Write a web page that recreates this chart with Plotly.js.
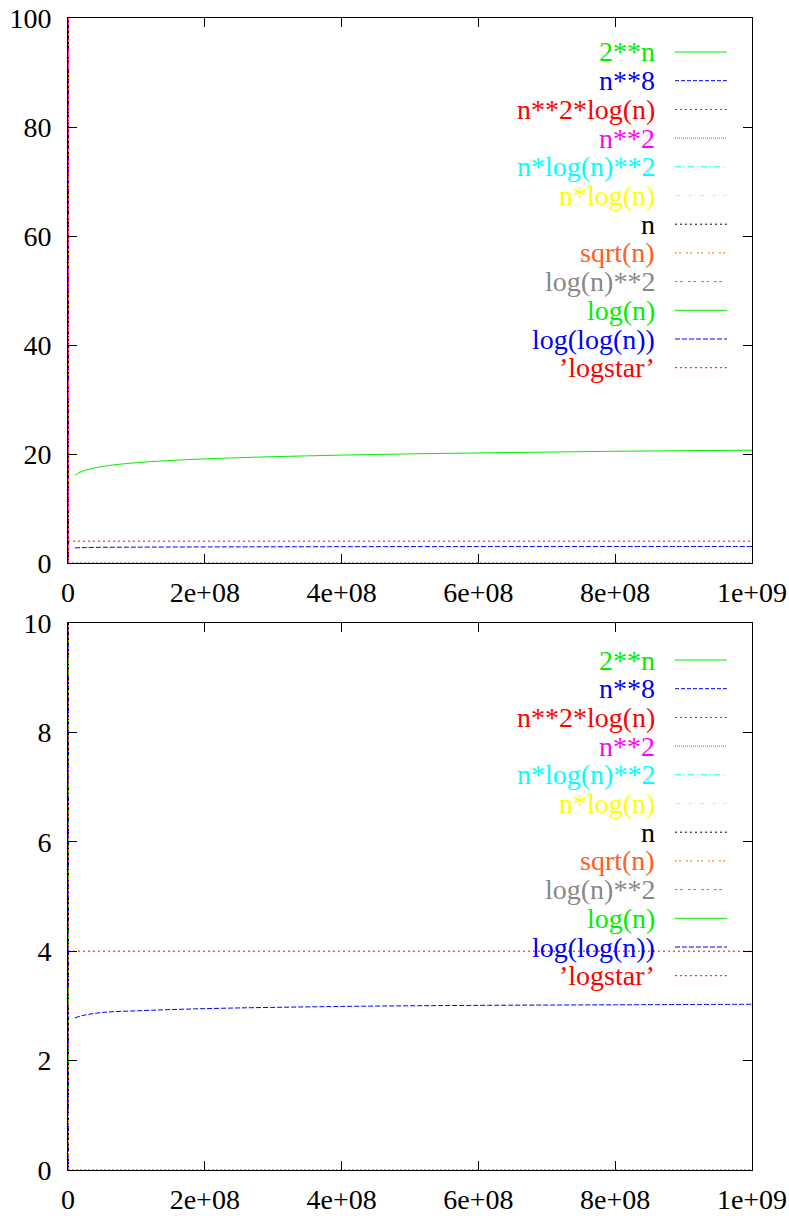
<!DOCTYPE html>
<html><head><meta charset="utf-8">
<script src="https://cdn.plot.ly/plotly-3.0.1.min.js"></script>
<style>
body{margin:0;background:#fff}
#chart svg text{font-family:"Liberation Serif","Times New Roman",serif !important;}
</style>
</head><body><div id="chart" style="width:789px;height:1216px"></div>
<script>
// ---- data ----
const seriesNames  = ["2**n","n**8","n**2*log(n)","n**2","n*log(n)**2","n*log(n)","n","sqrt(n)","log(n)**2","log(n)","log(log(n))","\u2019logstar\u2019"];
const seriesColors = ["#00ee00","#0000ff","#ff0000","#ff00ff","#00ffff","#ffff00","#000000","#ff6020","#888888","#00ee00","#0000ff","#ff0000"];
const seriesDashes = ["solid","4px,2px","2px,3px","1px,1px","6px,3px,1px,3px","5px,3px,1px,3px","2px,3px","2px,2px,2px,5px","3px,2px,3px,5px","solid","5px,2px","2px,3px"];

// series that rise beyond the plotted range right after n = 0
const steepX = [0, 1.01e7];
const steepY = {
  "2**n":    [1, 1e6],
  "n**8":    [0, 1e6],
  "n**2":    [0, 1e6],
  "n":       [0, 1e6],
  "sqrt(n)": [0, 3178]
};
// slowly growing series
const slowX     = [1.01e7, 2e7, 5e7, 1e8, 2e8, 4e8, 6e8, 8e8, 1e9];
const logY      = [16.1, 16.8, 17.7, 18.4, 19.1, 19.8, 20.2, 20.5, 20.7];
const logLogY   = [2.78, 2.82, 2.88, 2.91, 2.95, 2.99, 3.01, 3.02, 3.03];
const logstarX  = [0, 1e9];
const logstarY  = [4, 4];
const zeroX     = [0, 1e9];
const zeroY     = [0, 0];

const xTickVals = [0, 2e8, 4e8, 6e8, 8e8, 1e9];
const xTickText = ["0","2e+08","4e+08","6e+08","8e+08","1e+09"];
const yTopTicks = [0, 20, 40, 60, 80, 100];
const yBotTicks = [0, 2, 4, 6, 8, 10];

// ---- build ----
const SERIF = "Liberation Serif";
const lineStyle = name => {
  const i = seriesNames.indexOf(name);
  return {color: seriesColors[i], width: 1, dash: seriesDashes[i]};
};
const traces = [];
const panels = [["x","y"],["x2","y2"]];
panels.forEach(([xa, ya]) => {
  traces.push({x: zeroX, y: zeroY, xaxis: xa, yaxis: ya, mode: "lines",
    line: {color: "#555555", width: 1, dash: "2px,2px"}, hoverinfo: "skip"});
  traces.push({x: slowX, y: logY, xaxis: xa, yaxis: ya, mode: "lines",
    line: Object.assign(lineStyle("log(n)"), {shape: "spline"}), name: "log(n)"});
  traces.push({x: slowX, y: logLogY, xaxis: xa, yaxis: ya, mode: "lines",
    line: Object.assign(lineStyle("log(log(n))"), {shape: "spline"}), name: "log(log(n))"});
  traces.push({x: logstarX, y: logstarY, xaxis: xa, yaxis: ya, mode: "lines",
    line: lineStyle(seriesNames[11]), name: seriesNames[11]});
  Object.keys(steepY).forEach(k => {
    const ln = lineStyle(k); ln.width = 2;
    traces.push({x: steepX, y: steepY[k], xaxis: xa, yaxis: ya, mode: "lines",
      line: ln, name: k});
  });
});

// pixel helpers (plot area: x 68..752, y 18..1170 of page)
const L = 68, R = 37, T = 18, B = 46, W = 789, H = 1216;
const pw = W - L - R, ph = H - T - B;
const toPx = v => (v - L) / pw;
const toPy = v => (H - B - v) / ph;

const annotations = [], shapes = [];
const legendTop = [52, 660];
const rowGap = 28.7;
legendTop.forEach(top => {
  seriesNames.forEach((nm, i) => {
    const yy = toPy(top + i * rowGap);
    annotations.push({xref: "paper", yref: "paper", x: toPx(657), y: yy,
      xanchor: "right", yanchor: "middle", text: nm, showarrow: false,
      font: {family: SERIF, size: 28, color: seriesColors[i]}});
    shapes.push({type: "line", xref: "paper", yref: "paper",
      x0: toPx(675), x1: toPx(727), y0: yy, y1: yy,
      line: {color: seriesColors[i], width: 1, dash: seriesDashes[i]}});
  });
});

const axisCommon = {
  showline: true, linecolor: "#000", linewidth: 1, mirror: "ticks",
  ticks: "inside", ticklen: 9, tickcolor: "#000", tickwidth: 1,
  showgrid: false, zeroline: false,
  tickfont: {family: SERIF, size: 28, color: "#000"}
};
const layout = {
  width: W, height: H,
  margin: {l: L, r: R, t: T, b: B},
  paper_bgcolor: "#fff", plot_bgcolor: "#fff",
  font: {family: SERIF},
  showlegend: false,
  xaxis: Object.assign({}, axisCommon, {anchor: "y", domain: [0, 1], range: [0, 1e9],
    tickvals: xTickVals, ticktext: xTickText, ticklabelstandoff: 4}),
  yaxis: Object.assign({}, axisCommon, {anchor: "x", domain: [toPy(563), 1], range: [0, 100],
    tickvals: yTopTicks, ticklabelstandoff: 10}),
  xaxis2: Object.assign({}, axisCommon, {anchor: "y2", domain: [0, 1], range: [0, 1e9],
    tickvals: xTickVals, ticktext: xTickText, ticklabelstandoff: 4}),
  yaxis2: Object.assign({}, axisCommon, {anchor: "x2", domain: [0, toPy(623)], range: [0, 10],
    tickvals: yBotTicks, ticklabelstandoff: 10}),
  annotations: annotations,
  shapes: shapes
};
Plotly.newPlot("chart", traces, layout, {displayModeBar: false, staticPlot: true});
</script>
</body></html>
